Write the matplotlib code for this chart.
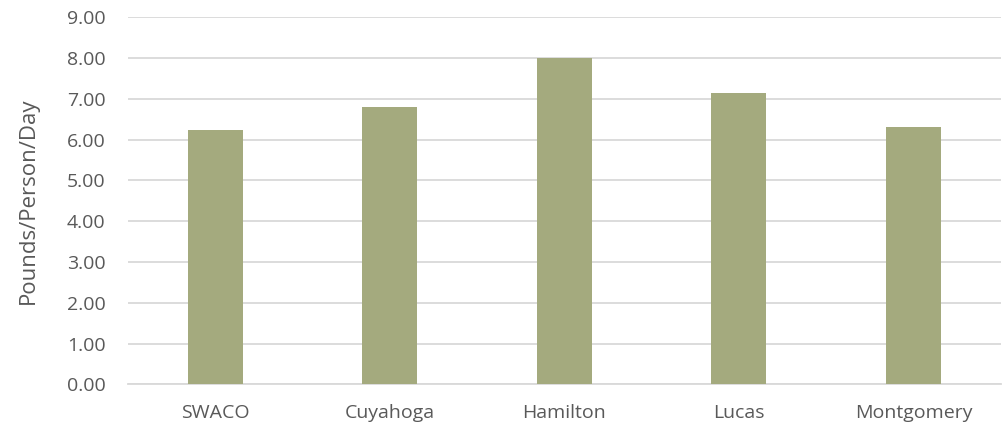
import numpy as np
import matplotlib.pyplot as plt

counties = ["SWACO", "Cuyahoga", "Hamilton", "Lucas", "Montgomery"]
lbs_per_person_day = [6.23, 6.81, 8.01, 7.14, 6.31]
yticks = [0, 1, 2, 3, 4, 5, 6, 7, 8, 9]

plt.rcParams['font.family'] = ['Open Sans', 'DejaVu Sans']
txt = '#595959'

fig = plt.figure(figsize=(10.02, 4.28), dpi=100)
ax = fig.add_axes([0.1277, 0.102, 0.871, 0.8574])

x = np.arange(len(counties))
ax.bar(x, lbs_per_person_day, width=0.315, color='#A4AA7E', zorder=3)

ax.set_xlim(-0.5, len(counties) - 0.5)
ax.set_ylim(0, 9)
ax.set_yticks(yticks)
ax.set_yticklabels(['%.2f' % v for v in yticks])
ax.set_xticks(x)
ax.set_xticklabels(counties)

ax.grid(axis='y', color='#D9D9D9', linewidth=1.3, zorder=0)
for s in ['top', 'right', 'left']:
    ax.spines[s].set_visible(False)
ax.spines['bottom'].set_color('#D9D9D9')
ax.spines['bottom'].set_linewidth(1.3)
ax.tick_params(axis='both', length=0, labelsize=14, colors=txt)
ax.tick_params(axis='y', pad=16)
ax.tick_params(axis='x', pad=14)

ax.set_ylabel('Pounds/Person/Day', fontsize=16, color=txt, labelpad=20)

fig.savefig('out.png', dpi=100)
